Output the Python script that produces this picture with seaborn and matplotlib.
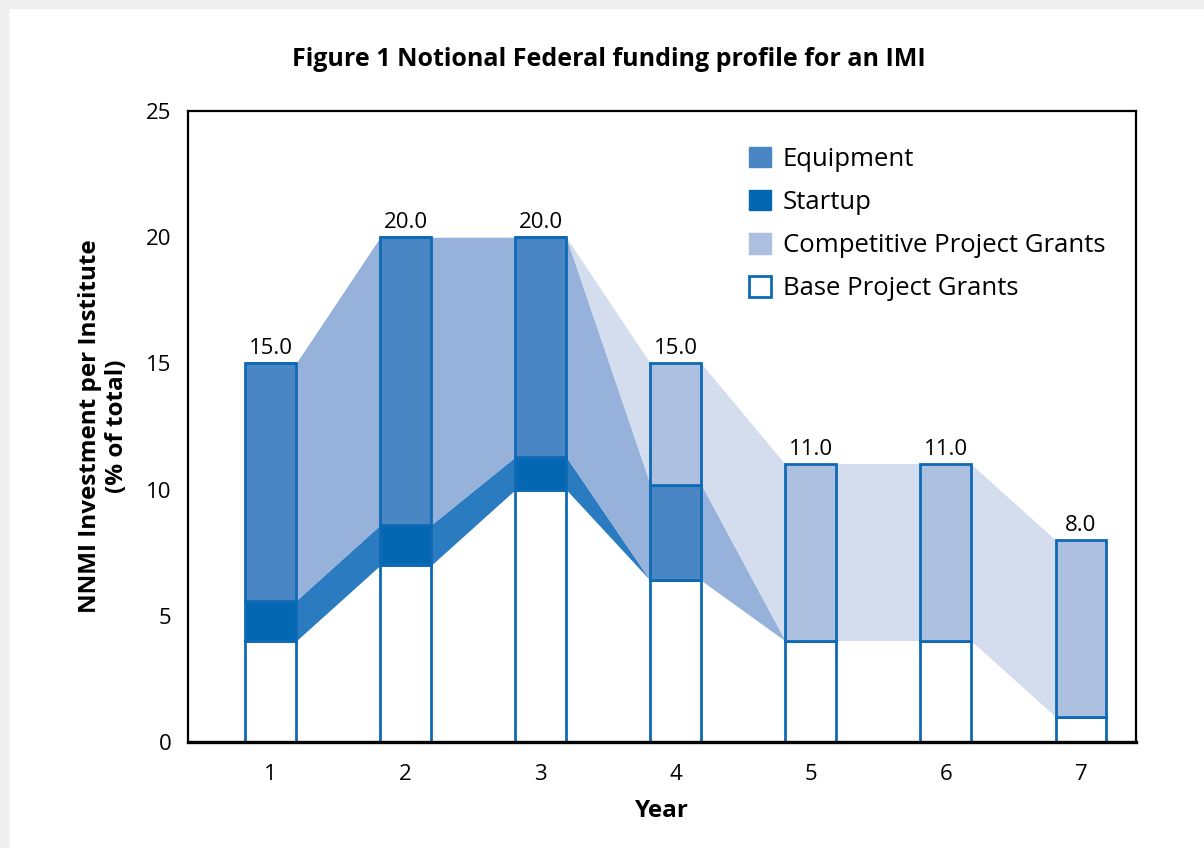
import matplotlib
matplotlib.use("Agg")
import matplotlib.pyplot as plt
import seaborn as sns
from matplotlib.patches import Patch, Rectangle

# data (% of total per year)
years = [1, 2, 3, 4, 5, 6, 7]
base = [4.0, 7.0, 10.0, 6.4, 4.0, 4.0, 1.0]
startup = [1.6, 1.6, 1.3, 0.0, 0.0, 0.0, 0.0]
equipment = [9.4, 11.4, 8.7, 3.8, 0.0, 0.0, 0.0]
competitive = [0.0, 0.0, 0.0, 4.8, 7.0, 7.0, 7.0]
total_labels = [15.0, 20.0, 20.0, 15.0, 11.0, 11.0, 8.0]

layers = ["Base Project Grants", "Startup", "Equipment", "Competitive Project Grants"]
values = [base, startup, equipment, competitive]
bar_colors = ["white", "#0467b2", "#4a86c4", "#adc0e0"]
band_colors = [None, "#2a7bc0", "#96b1da", "#d4ddee"]
edge = "#0f6ab5"

sns.set_theme(style="white")
plt.rcParams["font.family"] = ["Open Sans", "DejaVu Sans"]
plt.rcParams.update({"text.color": "black", "axes.labelcolor": "black",
                     "xtick.color": "black", "ytick.color": "black"})

fig = plt.figure(figsize=(12.04, 8.48), dpi=100)
fig.patches.append(Rectangle((0, 0), 8 / 1204, 1, transform=fig.transFigure, color="#efefef", zorder=-10))
fig.patches.append(Rectangle((0, 1 - 8 / 848), 1, 8 / 848, transform=fig.transFigure, color="#efefef", zorder=-10))
ax = fig.add_axes([188 / 1204, 1 - 742 / 848, (1136 - 188) / 1204, (742 - 111) / 848])

width = 0.377

# cumulative bottoms / tops per layer
bottoms = []
running = [0.0] * len(years)
for v in values:
    bottoms.append(list(running))
    running = [r + x for r, x in zip(running, v)]

# connecting bands between neighbouring bars
for k, v in enumerate(values):
    if band_colors[k] is None:
        continue
    for i in range(len(years) - 1):
        x0 = years[i] + width / 2
        x1 = years[i + 1] - width / 2
        b = [bottoms[k][i], bottoms[k][i + 1]]
        t = [bottoms[k][i] + v[i], bottoms[k][i + 1] + v[i + 1]]
        ax.fill_between([x0, x1], b, t, color=band_colors[k], lw=0, zorder=1)

# stacked bars
for k, v in enumerate(values):
    ax.bar(years, v, width=width, bottom=bottoms[k], color=bar_colors[k],
           edgecolor=edge, linewidth=2, zorder=2)

for x, top, lab in zip(years, running, total_labels):
    ax.annotate(f"{lab:.1f}", (x, top), xytext=(0, 3), textcoords="offset points",
                ha="center", va="bottom", fontsize=16)

ax.set_xlim(0.389, 7.407)
ax.set_ylim(0, 25)
ax.set_xticks(years)
ax.set_yticks([0, 5, 10, 15, 20, 25])
ax.tick_params(axis="both", length=0, labelsize=16)
ax.tick_params(axis="x", pad=16)
ax.tick_params(axis="y", pad=12)
for s in ax.spines.values():
    s.set_color("black")
    s.set_linewidth(1.6)
ax.spines["bottom"].set_linewidth(2.4)

ax.set_xlabel("Year", fontsize=17.5, fontweight="bold", labelpad=10)
ax.set_ylabel("NNMI Investment per Institute\n(% of total)", fontsize=17.5,
              fontweight="bold", labelpad=12)
fig.suptitle("Figure 1 Notional Federal funding profile for an IMI", fontsize=18,
             fontweight="bold", x=0.506, y=0.945)

handles = [Patch(facecolor="#4a86c4", edgecolor="#4a86c4", label="Equipment"),
           Patch(facecolor="#0467b2", edgecolor="#0467b2", label="Startup"),
           Patch(facecolor="#adc0e0", edgecolor="#adc0e0", label="Competitive Project Grants"),
           Patch(facecolor="white", edgecolor=edge, linewidth=2, label="Base Project Grants")]
ax.legend(handles=handles, loc="upper left", bbox_to_anchor=(0.581, 0.96), frameon=False,
          fontsize=18.5, handlelength=0.86, handleheight=0.86, handletextpad=0.45,
          labelspacing=0.7, borderaxespad=0)

fig.savefig("out.png", dpi=100)
